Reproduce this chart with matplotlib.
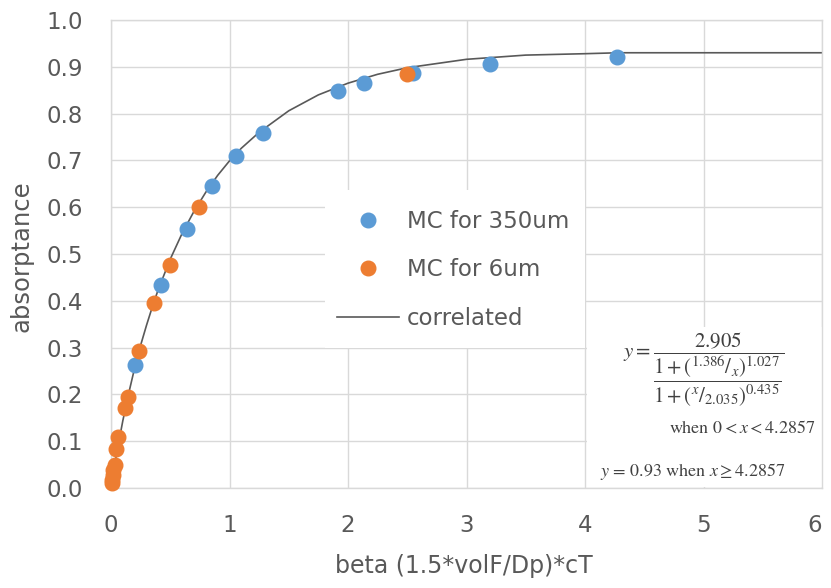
import matplotlib
matplotlib.use('Agg')
import matplotlib.pyplot as plt
from matplotlib.patches import Rectangle
from matplotlib.lines import Line2D

# MC results, 350um particles
blue_x = [0.20, 0.425, 0.638, 0.852, 1.057, 1.283, 1.916, 2.137, 2.55, 3.20, 4.27]
blue_y = [0.262, 0.433, 0.554, 0.645, 0.709, 0.759, 0.849, 0.865, 0.887, 0.907, 0.920]

# MC results, 6um particles
orange_x = [0.005, 0.010, 0.015, 0.020, 0.030, 0.040, 0.060, 0.121, 0.143, 0.239, 0.363, 0.498, 0.745, 2.495]
orange_y = [0.010, 0.018, 0.028, 0.038, 0.050, 0.083, 0.110, 0.170, 0.195, 0.292, 0.396, 0.476, 0.601, 0.885]

# correlated curve, points
curve_x = [0.0, 0.01, 0.02, 0.03, 0.05, 0.1, 0.15, 0.2, 0.25, 0.3, 0.35, 0.4, 0.5, 0.6, 0.7,
           0.8, 0.9, 1.0, 1.1, 1.25, 1.5, 1.75, 2.0, 2.25, 2.5, 3.0, 3.5, 4.0, 4.2857, 5.0, 6.0]
curve_y = [0.0, 0.017, 0.033, 0.048, 0.077, 0.144, 0.203, 0.257, 0.305, 0.348, 0.388, 0.425,
           0.489, 0.544, 0.591, 0.632, 0.668, 0.699, 0.726, 0.760, 0.806, 0.840, 0.865, 0.884,
           0.898, 0.916, 0.925, 0.928, 0.93, 0.93, 0.93]

x_ticks = [0, 1, 2, 3, 4, 5, 6]
y_ticks = [0.0, 0.1, 0.2, 0.3, 0.4, 0.5, 0.6, 0.7, 0.8, 0.9, 1.0]

plt.rcParams['font.family'] = ['DejaVu Sans']
plt.rcParams['mathtext.fontset'] = 'stix'

BLUE = '#5B9BD5'
ORANGE = '#ED7D31'
TXT = '#595959'
GRID = '#D9D9D9'
EQ = '#404040'

fig = plt.figure(figsize=(8.31, 5.88), dpi=100)
ax = fig.add_axes([111 / 831, 1 - 488 / 588, 711 / 831, 468 / 588])

ax.set_xlim(0, 6)
ax.set_ylim(0, 1)
ax.set_xticks(x_ticks)
ax.set_yticks(y_ticks)
ax.set_xticklabels([str(t) for t in x_ticks])
ax.set_yticklabels([f'{t:.1f}' for t in y_ticks])
ax.get_xticklabels()[-1].set_ha('right')
ax.grid(True, color=GRID, linewidth=1.0)
ax.set_axisbelow(True)
for s in ax.spines.values():
    s.set_color(GRID)
    s.set_linewidth(1.0)
ax.tick_params(length=0, labelsize=16.5, colors=TXT)
ax.tick_params(axis='y', pad=20)
ax.tick_params(axis='x', pad=19)

# white areas of legend and text box hiding the grid
ax.add_patch(Rectangle((0.301, 0.299), 0.365, 0.338, transform=ax.transAxes,
                       facecolor='white', edgecolor='none', zorder=1))
ax.add_patch(Rectangle((4 / 6 + 0.003, 0.002), 0.33, 0.342, transform=ax.transAxes,
                       facecolor='white', edgecolor='none', zorder=1))

ax.plot(curve_x, curve_y, color='#595959', linewidth=1.2, zorder=2)
ax.plot(blue_x, blue_y, 'o', color=BLUE, markersize=10.5, zorder=3, clip_on=False)
ax.plot(orange_x, orange_y, 'o', color=ORANGE, markersize=10.5, zorder=4, clip_on=False)

handles = [
    Line2D([], [], marker='o', linestyle='none', color=BLUE, markersize=10.5),
    Line2D([], [], marker='o', linestyle='none', color=ORANGE, markersize=10.5),
    Line2D([], [], color='#595959', linewidth=1.2),
]
leg = ax.legend(handles, ['MC for 350um', 'MC for 6um', 'correlated'],
                loc='center left', bbox_to_anchor=((337 - 111) / 711, (488 - 270) / 468),
                frameon=False, fontsize=16.5, labelspacing=1.1, handlelength=2.7,
                handletextpad=0.35, borderpad=0, borderaxespad=0)
for t in leg.get_texts():
    t.set_color(TXT)

# correlation formula
ax.text(0.833, 0.255,
        r'$y = \dfrac{2.905}{\dfrac{1 + (^{1.386}/_{x})^{1.027}}{1 + (^{x}/_{2.035})^{0.435}}}$',
        transform=ax.transAxes, ha='center', va='center', fontsize=15, color=EQ)
ax.text(0.991, 0.128, r'when $0 < x < 4.2857$', transform=ax.transAxes,
        ha='right', va='center', fontsize=13, color=EQ, family='STIXGeneral')
ax.text(0.948, 0.035, r'$y$ = 0.93 when $x \geq 4.2857$', transform=ax.transAxes,
        ha='right', va='center', fontsize=13, color=EQ, family='STIXGeneral')

fig.text(22 / 831, 1 - 256 / 588, 'absorptance', rotation=90, ha='center', va='center',
         fontsize=17.5, color=TXT)
fig.text(464 / 831, 1 - 566 / 588, 'beta (1.5*volF/Dp)*cT', ha='center', va='center',
         fontsize=17, color=TXT)

fig.savefig('out.png', dpi=100)
